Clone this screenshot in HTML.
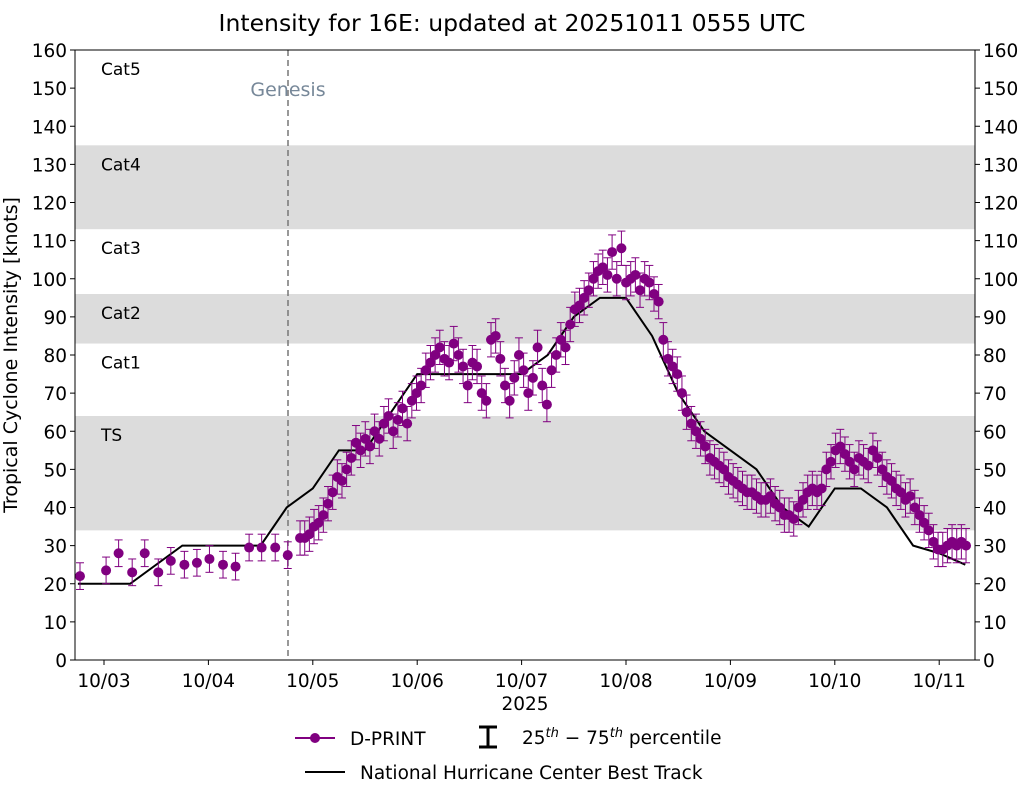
<!DOCTYPE html>
<html><head><meta charset="utf-8"><style>
body{margin:0;background:#fff;font-family:"Liberation Sans","DejaVu Sans",sans-serif}
svg text{font-family:"DejaVu Sans","Liberation Sans",sans-serif}
</style></head><body>
<svg id="c" width="1025" height="785" xmlns="http://www.w3.org/2000/svg"></svg>
<script>
const yTicks=[0,10,20,30,40,50,60,70,80,90,100,110,120,130,140,150,160];
const xTickLabels=["10/03","10/04","10/05","10/06","10/07","10/08","10/09","10/10","10/11"];
const bands=[[34,64,"TS"],[64,83,"Cat1"],[83,96,"Cat2"],[96,113,"Cat3"],[113,135,"Cat4"],[135,160,"Cat5"]];
const bestDays=[-0.25,0.25,0.75,1.5,1.75,2.0,2.25,2.5,2.75,3.0,3.25,3.5,3.75,4.0,4.25,4.5,4.75,5.0,5.25,5.5,5.75,6.0,6.25,6.5,6.75,7.0,7.25,7.5,7.75,8.0,8.25];
const bestVals=[20,20,30,30,40,45,55,55,65,75,75,75,75,75,80,90,95,95,85,70,60,55,50,40,35,45,45,40,30,28,25];
const sparseDays=[-0.23,0.02,0.14,0.27,0.39,0.52,0.64,0.77,0.89,1.01,1.14,1.26,1.39,1.51,1.64,1.76];
const sparseVals=[22,23.5,28,23,28,23,26,25,25.5,26.5,25,24.5,29.5,29.5,29.5,27.5];
const denseVals=[32,32,33,35,36,38,41,44,48,47,50,53,57,55,58,56,60,58,62,64,60,63,66,62,68,70,72,76,78,80,82,79,78,83,80,77,72,78,77,70,68,84,85,79,72,68,74,80,76,70,74,82,72,67,76,80,84,82,88,92,93,95,97,100,102,103,101,107,100,108,99,100,101,97,100,99,96,94,84,79,77,75,70,65,62,60,58,56,53,52,51,50,48,47,46,45,44,44,43,42,42,43,41,40,38,38,37,40,42,44,45,44,45,50,52,55,56,54,52,50,53,52,51,55,53,50,48,47,45,44,42,43,40,38,36,34,31,29,29,30,31,30,31,30];
const denseStart=1.878, denseEnd=8.257;
const svg=document.getElementById('c');const NS="http://www.w3.org/2000/svg";
const L=75,R=975,T=50,B=660;
const X=d=>104+d*104.4, Y=v=>B-v*(B-T)/160;
function mk(t,a,p){const e=document.createElementNS(NS,t);for(const k in a)e.setAttribute(k,a[k]);(p||svg).appendChild(e);return e;}
for(const b of bands){
 if(b[2]=="TS"||b[2]=="Cat2"||b[2]=="Cat4"){const r=mk('rect',{x:L,y:Y(b[1]),width:R-L,height:Y(b[0])-Y(b[1]),fill:'#dcdcdc'});
 }
 const t=mk('text',{x:101,y:Y(b[1])+25,'font-size':17});t.textContent=b[2];
 
}
const g=mk('line',{x1:288,x2:288,y1:T,y2:B,stroke:'#777','stroke-width':1.5,'stroke-dasharray':'6,4'});

const gt=mk('text',{x:288,y:96,'font-size':19,'text-anchor':'middle',fill:'#778899'});gt.textContent='Genesis';

const bp=mk('polyline',{points:bestDays.map((d,i)=>X(d)+','+Y(bestVals[i])).join(' '),fill:'none',stroke:'#000','stroke-width':2});

function pt(d,v,e){
 const x=X(d),gg=mk('g',{});
 
 mk('line',{x1:x,x2:x,y1:Y(v+e),y2:Y(v-e),stroke:'#800080','stroke-width':1},gg);
 mk('line',{x1:x-4,x2:x+4,y1:Y(v+e),y2:Y(v+e),stroke:'#800080'},gg);
 mk('line',{x1:x-4,x2:x+4,y1:Y(v-e),y2:Y(v-e),stroke:'#800080'},gg);
 mk('circle',{cx:x,cy:Y(v),r:5,fill:'#800080'},gg);
}
sparseDays.forEach((d,i)=>pt(d,sparseVals[i],3.5));
denseVals.forEach((v,i)=>pt(denseStart+i*(denseEnd-denseStart)/(denseVals.length-1),v,4.5));
const fr=mk('rect',{x:L,y:T,width:R-L,height:B-T,fill:'none',stroke:'#000','stroke-width':1});

for(const v of yTicks){const y=Y(v);
 mk('line',{x1:L-5,x2:L,y1:y,y2:y,stroke:'#000'});mk('line',{x1:R,x2:R+5,y1:y,y2:y,stroke:'#000'});
 const a=mk('text',{x:L-8,y:y+7,'font-size':18.5,'text-anchor':'end'});a.textContent=v;
 
 const b=mk('text',{x:R+8,y:y+7,'font-size':18.5});b.textContent=v;
 }
xTickLabels.forEach((s,i)=>{const x=X(i);mk('line',{x1:x,x2:x,y1:B,y2:B+5,stroke:'#000'});
 const t=mk('text',{x:x,y:B+27,'font-size':18.5,'text-anchor':'middle'});t.textContent=s;
 });
function txt(s,a,n){const t=mk('text',a);t.textContent=s;return t;}
txt('2025',{x:525,y:710,'font-size':18.5,'text-anchor':'middle'},'x-axis-title');
txt('Intensity for 16E: updated at 20251011 0555 UTC',{x:512,y:31,'font-size':23.5,'text-anchor':'middle'},'chart-title');
txt('Tropical Cyclone Intensity [knots]',{x:0,y:0,'font-size':19,'text-anchor':'middle',transform:'translate(17,355) rotate(-90)'},'y-axis-title');
const lg=mk('g',{});
mk('line',{x1:295,x2:335,y1:738,y2:738,stroke:'#800080','stroke-width':2},lg);
mk('circle',{cx:315,cy:738,r:5,fill:'#800080'},lg);
txt('D-PRINT',{x:350,y:745,'font-size':18.5},'legend-dprint');
mk('line',{x1:488,x2:488,y1:727,y2:747,stroke:'#000','stroke-width':3},lg);
mk('line',{x1:479,x2:497,y1:727,y2:727,stroke:'#000','stroke-width':3},lg);
mk('line',{x1:479,x2:497,y1:747,y2:747,stroke:'#000','stroke-width':3},lg);
const pt2=txt('',{x:522,y:744,'font-size':18.5},'legend-percentile');
pt2.innerHTML='25<tspan dy="-7" font-size="13" font-style="italic">th</tspan><tspan dy="7"> − 75</tspan><tspan dy="-7" font-size="13" font-style="italic">th</tspan><tspan dy="7"> percentile</tspan>';
mk('line',{x1:305,x2:345,y1:772,y2:772,stroke:'#000','stroke-width':2},lg);
txt('National Hurricane Center Best Track',{x:360,y:779,'font-size':18.5},'legend-best-track');
</script></body></html>
